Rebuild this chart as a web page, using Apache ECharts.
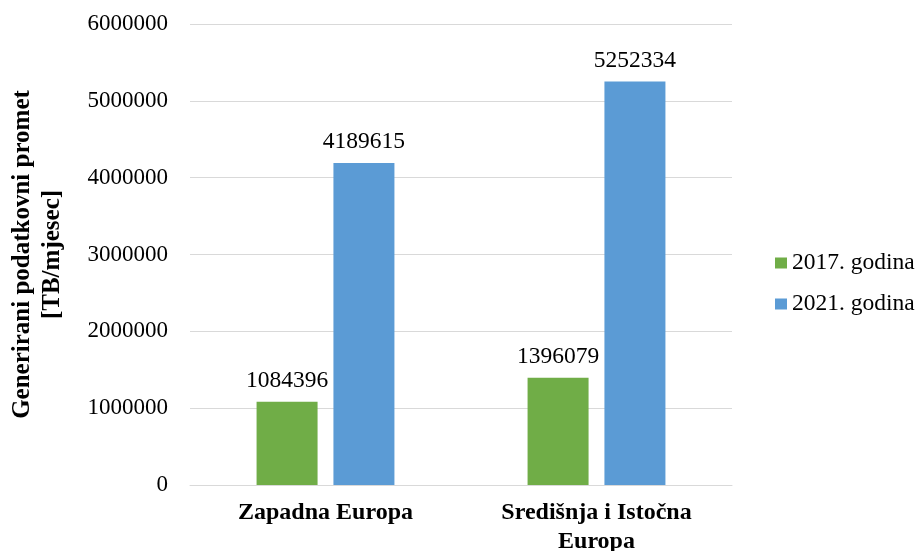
<!DOCTYPE html>
<html><head><meta charset="utf-8">
<script src="https://cdn.jsdelivr.net/npm/echarts@6/dist/echarts.min.js"></script>
<style>html,body{margin:0;padding:0;background:#fff}#c{width:918px;height:551px}</style>
</head><body><div id="c"></div>
<script>
var categories = ['Zapadna Europa', 'Središnja i Istočna\nEuropa'];
var seriesNames = ['2017. godina', '2021. godina'];
var values2017 = [1084396, 1396079];
var values2021 = [4189615, 5252334];
var yTicks = [0, 1000000, 2000000, 3000000, 4000000, 5000000, 6000000];

var font = '"Liberation Serif", "Times New Roman", serif';
var chart = echarts.init(document.getElementById('c'));
chart.setOption({
  animation: false,
  textStyle: {fontFamily: font},
  grid: {left: 190, right: 186, top: 24, bottom: 66, containLabel: false, outerBoundsMode: 'none'},
  legend: {
    orient: 'vertical', left: 770, top: 245,
    itemWidth: 12, itemHeight: 11, itemGap: 15, icon: 'rect',
    textStyle: {fontFamily: font, fontSize: 23.5, color: '#000', lineHeight: 26},
    data: seriesNames
  },
  xAxis: {
    type: 'category', data: categories,
    axisLine: {show: true, lineStyle: {color: '#D9D9D9', width: 1}},
    axisTick: {show: false},
    axisLabel: {fontFamily: font, fontSize: 24, fontWeight: 'bold', color: '#000', margin: 13, lineHeight: 29, interval: 0}
  },
  yAxis: {
    type: 'value', min: yTicks[0], max: yTicks[yTicks.length-1], interval: 1000000,
    name: 'Generirani podatkovni promet\n[TB/mjesec]',
    nameLocation: 'middle', nameGap: 122, nameRotate: 90,
    nameTextStyle: {fontFamily: font, fontSize: 25, fontWeight: 'bold', color: '#000', lineHeight: 30},
    axisLine: {show: false}, axisTick: {show: false},
    splitLine: {lineStyle: {color: '#D9D9D9', width: 1}},
    axisLabel: {fontFamily: font, fontSize: 23, color: '#000', margin: 22, formatter: function (v) { return String(v); }}
  },
  series: [
    {name: seriesNames[0], type: 'bar', data: values2017, barWidth: 61, barGap: '26%',
     itemStyle: {color: '#70AD47'},
     label: {show: true, position: 'top', distance: 9, fontFamily: font, fontSize: 23.5, color: '#000'}},
    {name: seriesNames[1], type: 'bar', data: values2021, barWidth: 61,
     itemStyle: {color: '#5B9BD5'},
     label: {show: true, position: 'top', distance: 9, fontFamily: font, fontSize: 23.5, color: '#000'}}
  ]
});
</script></body></html>
